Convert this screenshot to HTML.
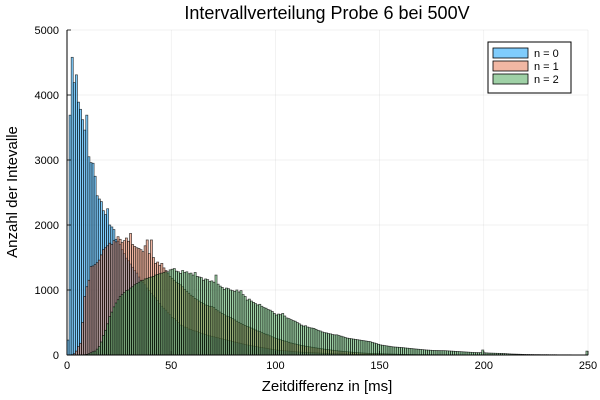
<!DOCTYPE html>
<html><head><meta charset="utf-8"><style>
body{margin:0;background:#fff;}
svg{display:block;font-family:"Liberation Sans","DejaVu Sans",sans-serif;}
</style></head><body>
<svg id="chart" width="600" height="400" viewBox="0 0 600 400" xmlns="http://www.w3.org/2000/svg">
<text x="327" y="19" font-size="18" text-anchor="middle" fill="#000">Intervallverteilung Probe 6 bei 500V</text>
<g id="grid"></g>
<g id="bars"></g>
<g id="axes"></g>
<text x="327" y="391" font-size="15" text-anchor="middle">Zeitdifferenz in [ms]</text>
<text transform="translate(17,192) rotate(-90)" font-size="15" text-anchor="middle">Anzahl der Intevalle</text>
<g>
<rect x="488" y="42" width="83" height="51" fill="#fff" stroke="#000" stroke-width="1"/>
<g><rect x="493" y="48" width="35" height="10" fill="#7fccfc" stroke="#000" stroke-width="0.8"/><text x="534" y="57" font-size="11">n = 0</text></g>
<g><rect x="493" y="61" width="35" height="10" fill="#f1b7a3" stroke="#000" stroke-width="0.8"/><text x="534" y="70" font-size="11">n = 1</text></g>
<g><rect x="493" y="74" width="35" height="10" fill="#9fd1a6" stroke="#000" stroke-width="0.8"/><text x="534" y="83" font-size="11">n = 2</text></g>
</g>
</svg>
<script>
const xTicks=[0,50,100,150,200,250];
const yTicks=[0,1000,2000,3000,4000,5000];
const binWidth=1;
const seriesNames=["n = 0","n = 1","n = 2"];
const blueCounts=[230,3690,4580,4190,4310,3890,3780,3620,3460,3690,3050,2960,2950,2750,2450,2400,2360,2220,2160,2250,2000,1970,1930,1780,
1750,1700,1620,1560,1490,1450,1400,1350,1300,1260,1200,1150,1120,1080,1030,990,
950,910,880,840,790,750,720,690,650,620,580,560,530,500,460,450,430,420,400,390,
380,370,360,345,335,325,315,305,295,288,280,272,265,255,248,240,232,225,218,210,
200,192,185,178,170,162,155,150,143,138,132,126,120,115,110,105,100,93,88,82,
77,74,72,69,66,63,60,57,54,51,48,46,44,42,40,39,38,36,35,33,
32,30,28,27,25,24,22,21,20,19,18,17,16,15,15,14,13,12,12,11,
11,10,10,9,9,8,8,7,7,6,6,6,5,5,5,4,4,4,3,3];
const redCounts=[0,0,5,20,60,
130,180,500,900,1050,1150,1360,1370,1390,1420,1460,1540,1620,1650,1680,1720,1700,1760,1740,
1820,1780,1730,1760,1800,1750,1870,1700,1670,1650,1640,1620,1590,1680,1770,1560,1770,1500,1410,1430,1380,1410,1340,1300,
1250,1210,1180,1150,1120,1100,1080,1050,1010,980,950,920,900,870,850,830,810,790,770,760,750,745,
730,700,680,660,640,620,600,590,580,560,540,520,500,485,470,455,440,430,415,400,
385,370,360,345,330,320,310,295,280,265,255,245,235,225,215,205,195,185,178,170,
162,155,148,142,136,130,125,120,115,110,105,100,95,90,86,82,78,74,70,66,
62,59,56,53,50,47,44,41,38,36,34,32,30,28,26,25,24,23,22,21,
20,19,18,17,16,15,14,13,12,11,10,10,9,9,8,8,7,7,6,6,
6,5,5,5,4,4,4,4,3,3,3,3,3,2,2,2,2,2,2,2,1,1,1,1,1,1,1,1,1,1];
const greenCounts=[0,0,0,0,0,0,0,2,5,10,
20,35,50,60,90,130,200,300,380,480,
590,660,740,800,850,900,930,960,990,1000,
1030,1050,1080,1100,1120,1140,1150,1170,1180,1190,
1200,1210,1230,1240,1250,1260,1270,1280,1280,1310,
1320,1330,1290,1280,1256,1300,1270,1280,1250,1260,
1230,1270,1210,1200,1190,1150,1170,1160,1130,1140,
1120,1230,1090,1060,1040,1010,1030,1020,1000,990,
980,1000,970,990,930,900,845,860,830,810,
790,770,780,750,730,720,700,690,670,640,
615,630,620,640,600,570,560,545,530,520,
500,480,460,445,450,430,420,415,410,395,
380,370,355,345,340,330,325,315,310,310,
300,290,280,270,260,255,250,245,240,235,
230,225,220,215,210,205,195,185,175,165,
155,150,145,140,135,130,125,122,120,118,
115,112,108,105,102,99,95,92,89,86,
83,80,77,75,73,71,70,69,68,67,
67,66,64,62,60,58,56,54,52,50,
48,46,44,42,40,38,37,36,36,77,
34,32,30,29,28,27,26,25,24,23,
21,19,17,15,14,13,12,11,10,9,
8,8,7,7,6,6,6,5,5,5,
5,4,4,4,4,3,3,3,3,3,
3,3,2,2,2,2,2,2,2,60];

const X0=67,X1=588,Y0=355,Y1=30;
const xScale=v=>X0+(v-0)/(250-0)*(X1-X0);
const yScale=v=>Y0-(v-0)/(5000-0)*(Y0-Y1);
const NS="http://www.w3.org/2000/svg";
const grid=document.getElementById('grid'),bars=document.getElementById('bars'),axes=document.getElementById('axes');
function mk(tag,attrs,parent){const e=document.createElementNS(NS,tag);for(const k in attrs)e.setAttribute(k,attrs[k]);parent.appendChild(e);return e;}
xTicks.forEach(t=>{
  const l=mk('line',{x1:xScale(t),x2:xScale(t),y1:Y1,y2:Y0,stroke:'#000','stroke-opacity':0.1,'stroke-width':0.5},grid);
  
  
  const tk=mk('line',{x1:xScale(t),x2:xScale(t),y1:Y0,y2:Y0-4,stroke:'#000','stroke-width':0.8},axes);
  
  
  const tx=mk('text',{x:xScale(t),y:Y0+14,'font-size':11,'text-anchor':'middle'},axes);
  tx.textContent=t;
  
  
});
yTicks.forEach(t=>{
  const l=mk('line',{x1:X0,x2:X1,y1:yScale(t),y2:yScale(t),stroke:'#000','stroke-opacity':0.1,'stroke-width':0.5},grid);
  
  
  const tk=mk('line',{x1:X0,x2:X0+4,y1:yScale(t),y2:yScale(t),stroke:'#000','stroke-width':0.8},axes);
  
  
  const tx=mk('text',{x:X0-8,y:yScale(t)+4,'font-size':11,'text-anchor':'end'},axes);
  tx.textContent=t;
  
  
});
const series=[[blueCounts,'#009AFA','bar-n0'],[redCounts,'#E36F47','bar-n1'],[greenCounts,'#3EA44E','bar-n2']];
series.forEach(([vals,col,nm])=>{
  vals.forEach((v,i)=>{
    if(v<=0)return;
    const xa=xScale(i*binWidth),xb=xScale((i+1)*binWidth);
    const r=mk('rect',{x:xa,y:yScale(v),width:xb-xa,height:Y0-yScale(v),fill:col,'fill-opacity':0.5,stroke:'#000','stroke-opacity':0.75,'stroke-width':0.7},bars);
    
    
  });
});
const ax1=mk('line',{x1:X0,x2:X0,y1:Y1,y2:Y0,stroke:'#000','stroke-width':1},axes);


const ax2=mk('line',{x1:X0,x2:X1,y1:Y0,y2:Y0,stroke:'#000','stroke-width':1},axes);


</script>
</body></html>
